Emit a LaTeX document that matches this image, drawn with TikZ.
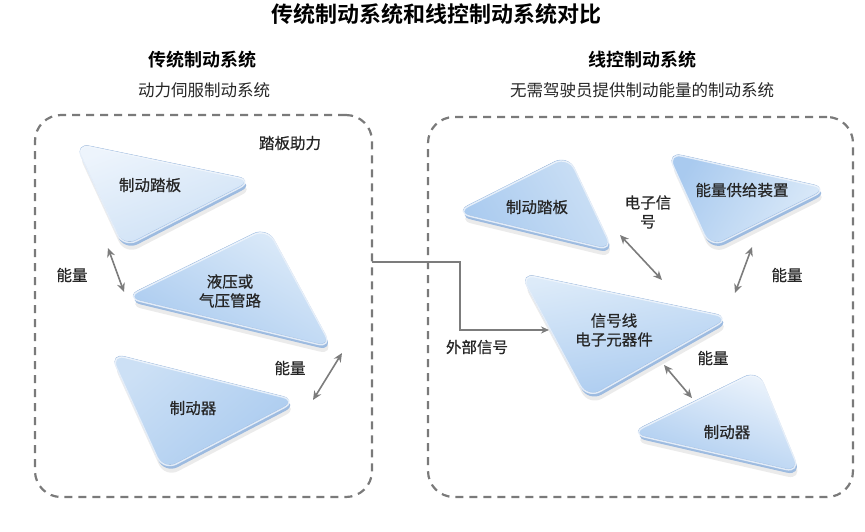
\documentclass[tikz,border=0pt]{standalone}
\usepackage{fontspec}
\setmainfont{Noto Sans CJK SC}[BoldFont={Noto Sans CJK SC Bold}]
\newfontfamily\lblfont{Noto Sans CJK SC}[FakeBold=0.6]
\usetikzlibrary{arrows.meta}
\definecolor{boxgray}{HTML}{7A7A7A}
\definecolor{arrgray}{HTML}{7C7C7C}
\definecolor{bevel}{HTML}{9DBBE0}
\definecolor{bevelhi}{HTML}{F4F8FD}
\definecolor{rim}{HTML}{A9C6EA}
\definecolor{cA}{HTML}{EDF4FC}
\definecolor{cB}{HTML}{CCE0F5}
\definecolor{cC}{HTML}{A9CAEF}
\definecolor{cD}{HTML}{DDEBF9}
\newcommand\gtri[4]{%
  \fill[rounded corners=15pt, fill=black, opacity=0.08, shift={(2,8)}] #1 -- #2 -- #3 -- cycle;
  \fill[rounded corners=15pt, fill=bevel, shift={(1.5,4)}] #1 -- #2 -- #3 -- cycle;
  \fill[rounded corners=15pt, #4] #1 -- #2 -- #3 -- cycle;
  \draw[rounded corners=15pt, rim, line width=0.8pt] #1 -- #2 -- #3 -- cycle;
  \draw[rounded corners=15pt, bevelhi, line width=1.4pt, opacity=0.8, shift={(0.3,0.8)}] #1 -- #2 -- #3 -- cycle;
}
\begin{document}
\begin{tikzpicture}[x=1pt, y=-1pt,
  dashbox/.style={draw=boxgray, line width=2.2pt, dash pattern=on 8pt off 6pt,
    rounded corners=26pt, inner sep=0pt, outer sep=0pt},
  dblarrow/.style={draw=arrgray, line width=1.6pt,
    {Stealth[length=9pt,width=8pt]}-{Stealth[length=9pt,width=8pt]}},
  conn/.style={draw=arrgray, line width=1.3pt, -{Stealth[length=8pt,width=7pt]}},
  lbl/.style={font=\lblfont\fontsize{15.5}{19}\selectfont, text=black!85, align=center, inner sep=1pt},
  head/.style={font=\fontsize{18}{22}\selectfont\bfseries, text=black},
  sub/.style={font=\fontsize{16.5}{20}\selectfont, text=black!85},
  title/.style={font=\fontsize{22}{26}\selectfont\bfseries, text=black}]
\useasboundingbox (0,0) rectangle (865,531);

% titles
\node[title] (ttl) at (436,14) {传统制动系统和线控制动系统对比};
\node[head] (hl) at (202,60) {传统制动系统};
\node[sub] (sl) at (204,90) {动力伺服制动系统};
\node[head] (hr) at (642,60) {线控制动系统};
\node[sub] (sr) at (642,90) {无需驾驶员提供制动能量的制动系统};

% boxes
\node[dashbox, minimum width=337pt, minimum height=382pt] (lbox) at (203.5,306) {};
\node[dashbox, minimum width=425pt, minimum height=380pt] (rbox) at (640.5,307) {};

% left triangles
\gtri{(75,143)}{(253,180)}{(123,247)}{top color=cA, bottom color=cB, shading angle=20}
\gtri{(267,227)}{(332,347)}{(125,297)}{top color=cD, bottom color=cC, shading angle=-30}
\gtri{(110,353)}{(297,400)}{(163,470)}{top color=cB, bottom color=cC, shading angle=40}

% right triangles
\gtri{(455,212)}{(568,155)}{(613,250)}{top color=cB, bottom color=cC, shading angle=-60}
\gtri{(667,152)}{(828,188)}{(710,247)}{top color=cC, bottom color=cD, shading angle=60}
\gtri{(520,273)}{(730,317)}{(587,398)}{top color=cD, bottom color=cC, shading angle=10}
\gtri{(758,370)}{(800,472)}{(630,433)}{top color=cA, bottom color=cC, shading angle=-20}

% triangle labels
\node[lbl] (tl1) at (150,185) {制动踏板};
\node[lbl] (tl2) at (230,291) {液压或\\气压管路};
\node[lbl] (tl3) at (193,408) {制动器};
\node[lbl] (tr1) at (537,207) {制动踏板};
\node[lbl] (tr2) at (742,190) {能量供给装置};
\node[lbl] (tr3) at (614,330) {信号线\\电子元器件};
\node[lbl] (tr4) at (727,432) {制动器};

% other labels
\node[lbl] (pb) at (290,143) {踏板助力};
\node[lbl] (el1) at (72,275) {能量};
\node[lbl] (el2) at (290,368) {能量};
\node[lbl] (ext) at (477,347) {外部信号};
\node[lbl] (es) at (648,212) {电子信\\号};
\node[lbl] (er1) at (787,275) {能量};
\node[lbl] (er2) at (713,358) {能量};

% arrow endpoints
\coordinate (a1s) at (108,248); \coordinate (a1e) at (124,292);
\coordinate (a2s) at (342,353); \coordinate (a2e) at (313,400);
\coordinate (b1s) at (620,235); \coordinate (b1e) at (662,280);
\coordinate (b2s) at (752,247); \coordinate (b2e) at (735,293);
\coordinate (b3s) at (664,365); \coordinate (b3e) at (692,398);
\draw[dblarrow] (a1s) -- (a1e);
\draw[dblarrow] (a2s) -- (a2e);
\draw[dblarrow] (b1s) -- (b1e);
\draw[dblarrow] (b2s) -- (b2e);
\draw[dblarrow] (b3s) -- (b3e);

% connector between systems
\coordinate (cs) at (372,262);
\coordinate (cm1) at (460,262);
\coordinate (cm2) at (460,330);
\coordinate (ce) at (549,330);
\draw[conn] (cs) -- (cm1) -- (cm2) -- (ce);
\end{tikzpicture}
\end{document}
